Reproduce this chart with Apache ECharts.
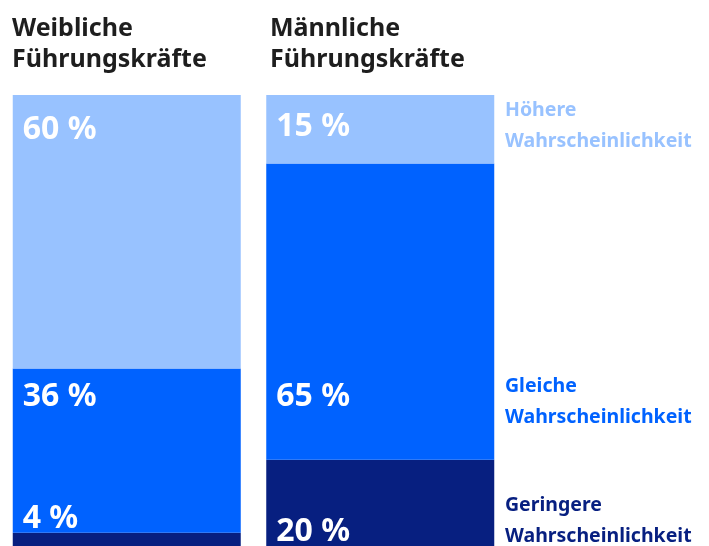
<!DOCTYPE html>
<html>
<head>
<meta charset="utf-8">
<script src="https://cdn.jsdelivr.net/npm/echarts@6/dist/echarts.min.js"></script>
<style>
html,body{margin:0;padding:0;background:#fff;}
#chart{width:709px;height:546px;}
</style>
</head>
<body>
<div id="chart"></div>
<script>
// Data
const categories = ['Weibliche Führungskräfte', 'Männliche Führungskräfte'];
const seriesNames = ['Geringere Wahrscheinlichkeit', 'Gleiche Wahrscheinlichkeit', 'Höhere Wahrscheinlichkeit'];
const geringere = [4, 20];
const gleiche = [36, 65];
const hoehere = [60, 15];

// Styles
const FONT = '"Noto Sans", sans-serif';
const colors = ['#071f80', '#0062ff', '#98c2ff'];
const labelOffsets = [
  [[10, -14], [10, 72]],
  [[10, 28], [10, 233]],
  [[10, 35], [10, 32]]
];
const legendTops = [490, 371, 95];

const values = [geringere, gleiche, hoehere];

const chart = echarts.init(document.getElementById('chart'), null, {renderer: 'canvas'});

const series = values.map((vals, si) => ({
  name: seriesNames[si],
  type: 'bar',
  stack: 'total',
  barWidth: 228,
  itemStyle: {color: colors[si]},
  emphasis: {disabled: true},
  data: vals.map((v, i) => ({
    value: v,
    label: {
      show: true,
      position: labelOffsets[si][i],
      align: 'left',
      verticalAlign: 'middle',
      formatter: '{c} %',
      color: '#ffffff',
      fontFamily: FONT,
      fontWeight: 'bold',
      fontSize: 32
    }
  }))
}));

const graphics = [];
categories.forEach((c, i) => {
  graphics.push({
    type: 'text',
    left: [12, 270][i],
    top: 13,
    style: {
      text: c.replace(' ', '\n'),
      fill: '#1e1e1e',
      font: 'bold 25px ' + FONT,
      lineHeight: 31
    }
  });
});
seriesNames.forEach((n, si) => {
  graphics.push({
    type: 'text',
    left: 505,
    top: legendTops[si],
    style: {
      text: n.replace(' ', '\n'),
      fill: colors[si],
      font: 'bold 19.5px ' + FONT,
      lineHeight: 31
    }
  });
});

chart.setOption({
  animation: false,
  grid: {left: 0, top: 95, width: 507, bottom: 0},
  xAxis: {type: 'category', data: categories, show: false},
  // value 0 sits just below the visible bottom edge, as in the reference
  yAxis: {type: 'value', min: 1.1, max: 100, show: false},
  series: series,
  graphic: graphics
});
</script>
</body>
</html>
